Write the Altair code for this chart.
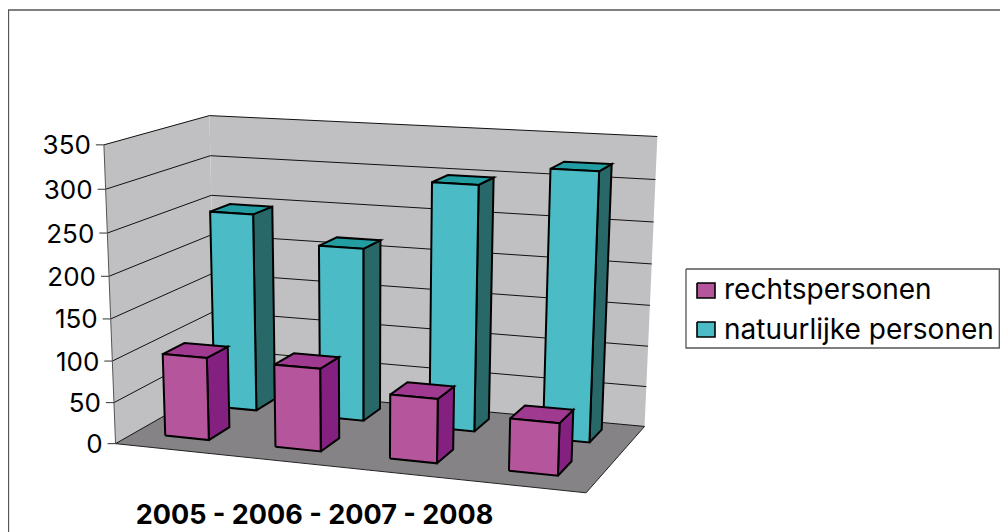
import numpy as np
import pandas as pd
import altair as alt

# ---- values ----
years = ["2005", "2006", "2007", "2008"]
rechtspersonen = [100, 99, 76, 61]
natuurlijke = [246, 213, 297, 320]
series_names = ["rechtspersonen", "natuurlijke personen"]
tick_values = [0, 50, 100, 150, 200, 250, 300, 350]
axis_title = "2005 - 2006 - 2007 - 2008"

W, H = 992, 524
OFF = 8
FONT = "Inter"

# ---- 3D box: model corner -> page position, used to fit a perspective camera ----
ZMAX = 350.0
control = [
    ((0, 0, 0), (117, 441.5)), ((0, 0, 1), (102.5, 145)),
    ((0, 1, 0), (214, 389)), ((0, 1, 1), (211, 115)),
    ((1, 1, 0), (645, 424)), ((1, 1, 1), (657, 137)),
    ((1, 0, 0), (586, 495)),
]
A, b = [], []
for (X, Y, Z), (u, v) in control:
    A.append([X, Y, Z, 1, 0, 0, 0, 0, -u * X, -u * Y, -u * Z]); b.append(u)
    A.append([0, 0, 0, 0, X, Y, Z, 1, -v * X, -v * Y, -v * Z]); b.append(v)
p = np.linalg.lstsq(np.array(A, float), np.array(b, float), rcond=None)[0]
P = np.append(p, 1.0).reshape(3, 4)


def proj(cat, row, val):
    """cat 0..4 across, row 0..2 in depth, val in data units -> chart px."""
    q = P @ np.array([cat / 4.0, row / 2.0, val / ZMAX, 1.0])
    return q[0] / q[2] - OFF, q[1] / q[2] - OFF


def poly_rows(name, pts):
    rows = []
    for i, pt in enumerate(list(pts) + [pts[0]]):
        x, y = proj(*pt)
        rows.append({"x": x, "y": y, "poly": name, "idx": i})
    return rows


xs = alt.Scale(domain=[0, W], range=[0, W])
ys = alt.Scale(domain=[0, H], range=[0, H])


def enc(ch):
    return ch.encode(
        x=alt.X("x:Q", scale=xs, axis=None),
        y=alt.Y("y:Q", scale=ys, axis=None),
        detail="poly:N",
        order=alt.Order("idx:Q"),
    )


def fill_layer(rows, color, stroke=None, sw=0):
    kw = dict(fill=color, clip=False)
    if stroke:
        kw.update(stroke=stroke, strokeWidth=sw, strokeJoin="miter")
    else:
        kw.update(strokeWidth=0)
    return enc(alt.Chart(pd.DataFrame(rows)).mark_line(**kw))


def line_layer(rows, color, sw):
    return enc(alt.Chart(pd.DataFrame(rows)).mark_line(stroke=color, strokeWidth=sw))


def open_rows(name, pts_xy):
    return [{"x": x, "y": y, "poly": name, "idx": i} for i, (x, y) in enumerate(pts_xy)]


layers = []
# chart frame
layers.append(line_layer(open_rows("frame", [(0.5, H), (0.5, 2), (W, 2)]), "#555555", 1.3))

# walls and floor
wall = poly_rows("left", [(0, 0, 0), (0, 0, 350), (0, 2, 350), (0, 2, 0)]) + \
       poly_rows("back", [(0, 2, 0), (0, 2, 350), (4, 2, 350), (4, 2, 0)])
layers.append(fill_layer(wall, "#C0BFC1"))
layers.append(fill_layer(poly_rows("floor", [(0, 0, 0), (4, 0, 0), (4, 2, 0), (0, 2, 0)]), "#868386"))

# gridlines, wall edge, axis ticks
grid = []
ticks = []
labels = []
for t in tick_values:
    pts = [proj(0, 0, t), proj(0, 2, t), proj(4, 2, t)]
    grid += open_rows(f"g{t}", pts)
    x0, y0 = pts[0]
    ticks += open_rows(f"t{t}", [(x0 - 8, y0), (x0, y0)])
    labels.append({"x": x0 - 13, "y": y0 + 1.5, "label": str(t)})
layers.append(line_layer(grid, "#111111", 1))
layers.append(line_layer(ticks, "#333333", 1))
layers.append(line_layer(open_rows("edge", [proj(0, 0, 0), proj(0, 0, 350)]), "#555555", 1))
layers.append(line_layer(open_rows("front", [proj(0, 0, 0), proj(4, 0, 0), proj(4, 2, 0)]), "#222222", 1))

U0, U1 = 0.28, 0.68
V0, V1 = 0.36, 0.78


def bar_faces(values, row):
    fr, to, si = [], [], []
    v0, v1 = row + V0, row + V1
    for i, val in enumerate(values):
        u0, u1 = i + U0, i + U1
        n = f"{row}-{i}"
        fr += poly_rows(n + "f", [(u0, v0, 0), (u0, v0, val), (u1, v0, val), (u1, v0, 0)])
        to += poly_rows(n + "t", [(u0, v0, val), (u0, v1, val), (u1, v1, val), (u1, v0, val)])
        si += poly_rows(n + "s", [(u1, v0, 0), (u1, v0, val), (u1, v1, val), (u1, v1, 0)])
    return fr, to, si


for vals, row, cols in [
    (natuurlijke, 1, ("#4BBBC5", "#229EA2", "#286868")),
    (rechtspersonen, 0, ("#B5559B", "#A03A90", "#84207F")),
]:
    fr, to, si = bar_faces(vals, row)
    layers.append(fill_layer(si, cols[2], "black", 2))
    layers.append(fill_layer(to, cols[1], "black", 2))
    layers.append(fill_layer(fr, cols[0], "black", 2))

# axis labels and category caption
layers.append(
    alt.Chart(pd.DataFrame(labels)).mark_text(
        align="right", baseline="middle", font=FONT, fontSize=26, color="black"
    ).encode(x=alt.X("x:Q", scale=xs, axis=None), y=alt.Y("y:Q", scale=ys, axis=None), text="label:N")
)
layers.append(
    alt.Chart(pd.DataFrame([{"x": 314.5 - OFF, "y": 524 - OFF, "label": axis_title}])).mark_text(
        align="center", baseline="alphabetic", font=FONT, fontSize=27, fontWeight="bold", color="black"
    ).encode(x=alt.X("x:Q", scale=xs, axis=None), y=alt.Y("y:Q", scale=ys, axis=None), text="label:N")
)

# legend
RIGHT = W - 0.7
box = [(686 - OFF, 269 - OFF), (RIGHT, 269 - OFF), (RIGHT, 348 - OFF), (686 - OFF, 348 - OFF), (686 - OFF, 269 - OFF)]
layers.append(enc(alt.Chart(pd.DataFrame(open_rows("box", box))).mark_line(fill="white", stroke="#555555", strokeWidth=1.3)))
for name, color, top, base in [
    (series_names[0], "#B5559B", 283, 299),
    (series_names[1], "#4BBBC5", 322, 339),
]:
    sw = [(697 - OFF, top - OFF), (715 - OFF, top - OFF), (715 - OFF, top + 15 - OFF), (697 - OFF, top + 15 - OFF), (697 - OFF, top - OFF)]
    layers.append(enc(alt.Chart(pd.DataFrame(open_rows("sw" + name, sw))).mark_line(fill=color, stroke="black", strokeWidth=1.6)))
    layers.append(
        alt.Chart(pd.DataFrame([{"x": 724 - OFF, "y": base - OFF, "label": name}])).mark_text(
            align="left", baseline="alphabetic", font=FONT, fontSize=28, color="black"
        ).encode(x=alt.X("x:Q", scale=xs, axis=None), y=alt.Y("y:Q", scale=ys, axis=None), text="label:N")
    )

chart = (
    alt.layer(*layers)
    .properties(width=W, height=H, padding=0, autosize=alt.AutoSizeParams(type="none"))
    .configure_view(stroke=None)
)
chart.save("out.html", embed_options={"renderer": "svg", "actions": False})
